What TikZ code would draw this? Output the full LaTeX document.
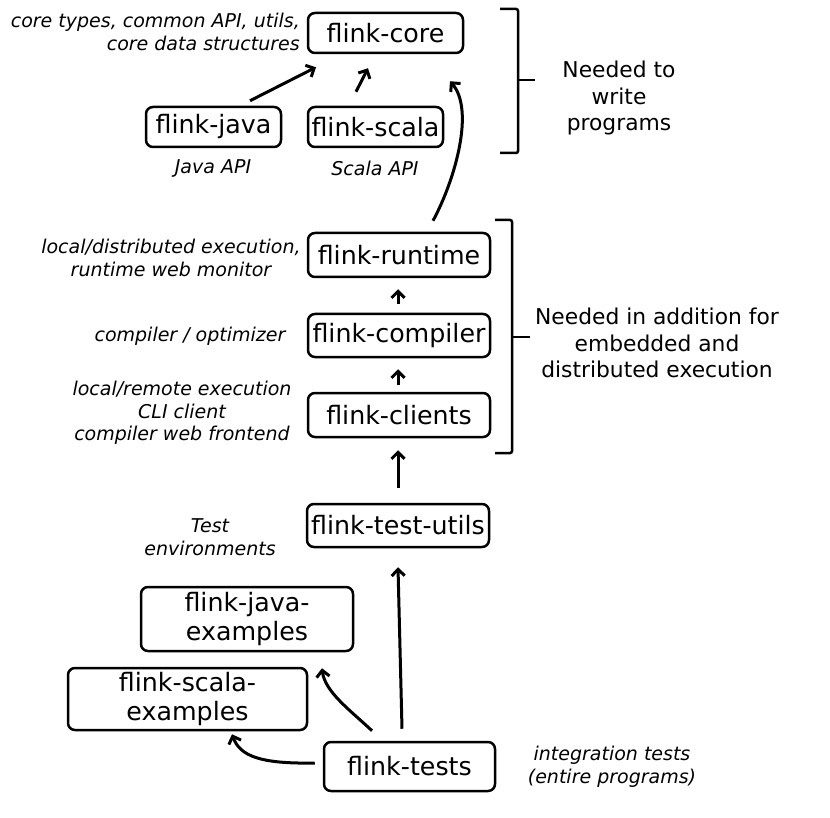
\documentclass[tikz,border=0pt]{standalone}
\usepackage{fontspec}
\setmainfont{DejaVu Sans}
\usetikzlibrary{arrows.meta,calc}
\begin{document}
\begin{tikzpicture}[x=1pt,y=-1pt,
 box/.style={draw, line width=2.5pt, rounded corners=7pt, inner sep=0pt, font=\fontsize{25.3}{29.5}\selectfont, align=center},
 lbl/.style={font=\fontsize{19}{22.5}\selectfont\itshape, align=center, inner sep=0pt},
 note/.style={font=\fontsize{21.8}{26.5}\selectfont, align=center, inner sep=0pt},
 arr/.style={-{Straight Barb[length=6.5pt,width=13pt]}, line width=3pt},
 bracepath/.style={line width=2.5pt, rounded corners=2pt}]
\useasboundingbox (0,0) rectangle (830,818);
% nodes
\node[box, minimum width=155pt, minimum height=40pt] (core) at (385.5,33) {flink-core};
\node[box, minimum width=135pt, minimum height=40pt] (java) at (213.5,127) {flink-java};
\node[box, minimum width=135pt, minimum height=40pt] (scala) at (375.5,127) {flink-scala};
\node[box, minimum width=182pt, minimum height=44pt] (runtime) at (399,255) {flink-runtime};
\node[box, minimum width=182pt, minimum height=43pt] (compiler) at (399,335.5) {flink-compiler};
\node[box, minimum width=182pt, minimum height=44pt] (clients) at (399,415) {flink-clients};
\node[box, minimum width=182pt, minimum height=43pt] (testutils) at (398,525.5) {flink-test-utils};
\node[box, minimum width=212pt, minimum height=64pt] (javaex) at (247,619) {flink-java-\\examples};
\node[box, minimum width=239pt, minimum height=62pt] (scalaex) at (187.5,699) {flink-scala-\\examples};
\node[box, minimum width=171pt, minimum height=49pt] (tests) at (409.5,766.5) {flink-tests};
% labels
\node[lbl, anchor=east, align=right] (lcore) at (300,32) {core types, common API, utils,\\core data structures};
\node[lbl] (ljava) at (213,168) {Java API};
\node[lbl] (lscala) at (375,168) {Scala API};
\node[lbl] (lruntime) at (171,258) {local/distributed execution,\\runtime web monitor};
\node[lbl] (lcompiler) at (190,336) {compiler / optimizer};
\node[lbl] (lclients) at (182,413) {local/remote execution\\CLI client\\compiler web frontend};
\node[lbl] (ltest) at (210,537) {Test\\environments};
\node[lbl] (ltests) at (612,767) {integration tests\\(entire programs)};
\node[note] (n1) at (619,98) {Needed to\\write\\programs};
\node[note] (n2) at (657,343) {Needed in addition for\\embedded and\\distributed execution};
% braces
\draw[bracepath] (500,9) -- (518,9) -- (518,153) -- (500,153);
\draw[bracepath] (518,80) -- (535,80);
\draw[bracepath] (495,220) -- (512,220) -- (512,453) -- (495,453);
\draw[bracepath] (512,337) -- (530,337);
% arrows
\draw[arr] ($(java.north)+(36.5,-5)$) -- ($(core.south)+(-69.5,13)$);
\draw[arr] ($(scala.north)+(-19.5,-14)$) -- ($(core.south)+(-17.5,14)$);
\draw[arr] ($(runtime.north)+(34,-11)$) .. controls (455,180) and (475,110) .. ($(core.south)+(64.5,27)$);
\draw[arr] ($(compiler.north)+(-1,-9)$) -- ($(runtime.south)+(-1,11)$);
\draw[arr] ($(clients.north)+(-1,-7)$) -- ($(compiler.south)+(-1,11)$);
\draw[arr] ($(testutils.north)+(0,-15)$) -- ($(clients.south)+(-1,12)$);
\draw[arr] ($(tests.north)+(-7.5,-12)$) -- ($(testutils.south)+(0,19)$);
\draw[arr] ($(tests.north)+(-37.5,-10)$) .. controls (350,710) and (325,692) .. ($(javaex.south)+(75,16)$);
\draw[arr] ($(tests.west)+(-8,-3.5)$) .. controls (260,764) and (240,756) .. ($(scalaex.south)+(44.5,3)$);
\end{tikzpicture}
\end{document}
